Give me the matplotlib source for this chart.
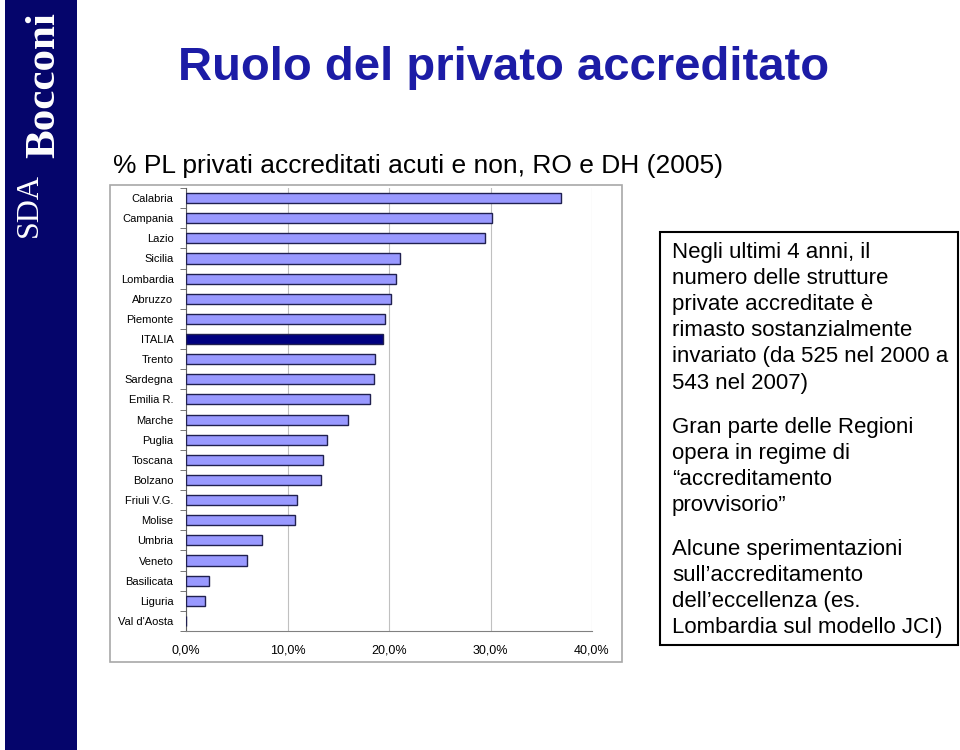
import matplotlib.pyplot as plt
from matplotlib.patches import Rectangle
import matplotlib.ticker as mticker

plt.rcParams['font.family'] = ['Liberation Sans', 'DejaVu Sans']

regions = ["Calabria", "Campania", "Lazio", "Sicilia", "Lombardia", "Abruzzo",
           "Piemonte", "ITALIA", "Trento", "Sardegna", "Emilia R.", "Marche",
           "Puglia", "Toscana", "Bolzano", "Friuli V.G.", "Molise", "Umbria",
           "Veneto", "Basilicata", "Liguria", "Val d'Aosta"]
values = [36.9, 30.1, 29.5, 21.1, 20.7, 20.2, 19.6, 19.4, 18.6, 18.5, 18.1,
          16.0, 13.9, 13.5, 13.3, 10.9, 10.7, 7.5, 6.0, 2.3, 1.9, 0.0]
xticks = [0, 10, 20, 30, 40]

W, H = 960, 750
fig = plt.figure(figsize=(9.6, 7.5), dpi=100)


def px(x0, y0, x1, y1):
    # pixel box (top-left origin) -> figure fraction rect
    return [x0 / W, 1 - y1 / H, (x1 - x0) / W, (y1 - y0) / H]


# sidebar
fig.patches.append(Rectangle((5 / W, 0), 72 / W, 1, transform=fig.transFigure,
                             facecolor="#05056b", edgecolor="none", zorder=0))
fig.text(37 / W, 1 - 237 / H, "SDA", rotation=90, rotation_mode="anchor",
         color="white", family="Liberation Serif", fontsize=23,
         ha="left", va="baseline")
fig.text(54 / W, 1 - 158 / H, "Bocconi", rotation=90, rotation_mode="anchor",
         color="white", family="Liberation Serif", fontweight="bold",
         fontsize=31, ha="left", va="baseline")

# title and subtitle
fig.text(504 / W, 1 - 68 / H, "Ruolo del privato accreditato", color="#1c1ca6",
         fontsize=34, fontweight="bold", ha="center", va="center")
fig.text(113 / W, 1 - 166 / H,
         "% PL privati accreditati acuti e non, RO e DH (2005)",
         fontsize=19, ha="left", va="center")

# chart frame
fig.patches.append(Rectangle((110 / W, 1 - 662 / H), 512 / W, 477 / H,
                             transform=fig.transFigure, facecolor="white",
                             edgecolor="#a8a8a8", linewidth=1.2, zorder=-1))

ax = fig.add_axes(px(186, 188, 592, 631))
ax.set_zorder(2)
ax.patch.set_alpha(0)
ypos = list(range(len(regions)))
colors = ["#000080" if r == "ITALIA" else "#9999ff" for r in regions]
ax.barh(ypos, values, height=0.5, color=colors, edgecolor="#202050",
        linewidth=1.0, zorder=3)
ax.set_ylim(len(regions) - 0.5, -0.5)
ax.set_xlim(0, 40)
ax.set_yticks(ypos)
ax.set_yticklabels(regions, fontsize=8)
ax.set_yticks([i - 0.5 for i in range(len(regions) + 1)], minor=True)
ax.tick_params(axis="y", which="major", length=0, pad=9)
ax.tick_params(axis="y", which="minor", length=4, color="#606060")
ax.set_xticks(xticks)
ax.xaxis.set_major_formatter(mticker.FuncFormatter(
    lambda v, p: f"{v:.1f}%".replace(".", ",")))
ax.tick_params(axis="x", length=0, labelsize=9, pad=10)
ax.grid(axis="x", color="#c0c0c0", linewidth=0.8, zorder=0)
for s in ["top", "right"]:
    ax.spines[s].set_visible(False)
ax.spines["bottom"].set_color("#808080")
ax.spines["left"].set_color("#606060")

# text box
fig.patches.append(Rectangle((660 / W, 1 - 645 / H), 298 / W, 413 / H,
                             transform=fig.transFigure, facecolor="white",
                             edgecolor="black", linewidth=1.5, zorder=-1))
paras = [
    (242, "Negli ultimi 4 anni, il\nnumero delle strutture\nprivate accreditate è\n"
          "rimasto sostanzialmente\ninvariato (da 525 nel 2000 a\n543 nel 2007)"),
    (417, "Gran parte delle Regioni\nopera in regime di\n\u201caccreditamento\n"
          "provvisorio\u201d"),
    (539, "Alcune sperimentazioni\nsull\u2019accreditamento\n"
          "dell\u2019eccellenza (es.\nLombardia sul modello JCI)"),
]
for y, txt in paras:
    fig.text(672 / W, 1 - y / H, txt, fontsize=16, ha="left", va="top",
             linespacing=1.32)

fig.savefig("out.png", dpi=100)
